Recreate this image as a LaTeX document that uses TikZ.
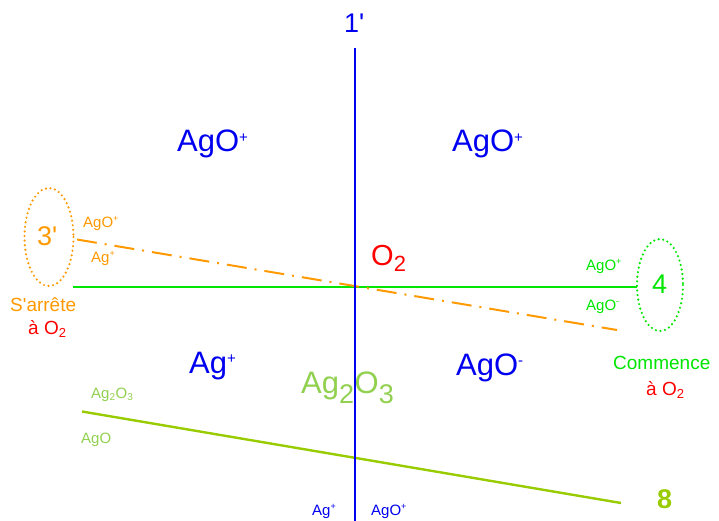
\documentclass[tikz,border=0pt]{standalone}
\usepackage{fontspec}
\setmainfont{Liberation Sans}[Ligatures=TeXOff]
\definecolor{cblue}{RGB}{0,0,240}
\definecolor{corange}{RGB}{255,153,0}
\definecolor{cred}{RGB}{255,0,0}
\definecolor{cgreen}{RGB}{0,230,0}
\definecolor{colive}{RGB}{153,204,0}
\definecolor{clight}{RGB}{146,208,80}
\begin{document}
\begin{tikzpicture}[x=1pt,y=-1pt,
  lbl/.style={inner sep=0pt,anchor=base west},
  big/.style={lbl,font=\fontsize{31}{31}\selectfont},
  mid/.style={lbl,font=\fontsize{19}{19}\selectfont},
  sml/.style={lbl,font=\fontsize{15}{15}\selectfont},
  num/.style={lbl,font=\fontsize{27}{27}\selectfont},
  dotell/.style={line width=2.4pt,line cap=round,dash pattern=on 0pt off 4.6pt}]
\useasboundingbox (0,0) rectangle (719,521);
% lines
\coordinate (bT) at (355,48);
\coordinate (bB) at (355,521);
\coordinate (gL) at (73,287);
\coordinate (gR) at (637,287);
\coordinate (oL) at (77,239.5);
\coordinate (oR) at (617,330);
\coordinate (yL) at (82,411.5);
\coordinate (yR) at (621,503);
\draw[cgreen,line width=2pt] (gL) -- (gR);
\draw[corange,line width=2pt,dash pattern=on 20pt off 8pt on 2pt off 8pt] (oL) -- (oR);
\draw[colive,line width=2.4pt] (yL) -- (yR);
\draw[cblue,line width=2.4pt] (bT) -- (bB);
% ellipses
\draw[corange,dotell] (49,237) ellipse [x radius=24.5,y radius=49];
\draw[cgreen,dotell] (660,285) ellipse [x radius=23,y radius=46];
% numbers
\node[num,text=cblue] (n1) at (344,33) {1'};
\node[num,text=corange] (n3) at (37,245) {3'};
\node[num,text=cgreen] (n4) at (652,293) {4};
\node[num,text=colive,font=\fontsize{27}{27}\selectfont\bfseries] (n8) at (657,508) {8};
% big labels
\node[big,text=cblue] (a1) at (177,152) {AgO\textsuperscript{\fontsize{15}{15}\selectfont+}};
\node[big,text=cblue] (a2) at (452,152) {AgO\textsuperscript{\fontsize{15}{15}\selectfont+}};
\node[big,text=cblue] (a3) at (189,373) {Ag\textsuperscript{\fontsize{15}{15}\selectfont+}};
\node[big,text=cblue] (a4) at (456,375) {AgO\textsuperscript{\fontsize{15}{15}\selectfont-}};
\node[big,text=clight] (a5) at (301,393) {Ag\textsubscript{\fontsize{27}{27}\selectfont 2}O\textsubscript{\fontsize{27}{27}\selectfont 3}};
\node[lbl,text=cred,font=\fontsize{29}{29}\selectfont] (o2) at (371,265) {O\textsubscript{\fontsize{22}{22}\selectfont 2}};
% left side
\node[sml,text=corange] (l1) at (83,227) {AgO\textsuperscript{\fontsize{9}{9}\selectfont+}};
\node[sml,text=corange] (l2) at (91,262) {Ag\textsuperscript{\fontsize{9}{9}\selectfont+}};
\node[mid,text=corange] (l3) at (10,311) {S'arrête};
\node[mid,text=cred] (l4) at (28,334) {à O\textsubscript{\fontsize{13}{13}\selectfont 2}};
% right side
\node[sml,text=cgreen] (r1) at (586,270) {AgO\textsuperscript{\fontsize{9}{9}\selectfont+}};
\node[sml,text=cgreen] (r2) at (586,310) {AgO\textsuperscript{\fontsize{9}{9}\selectfont-}};
\node[mid,text=cgreen] (r3) at (613,369) {Commence};
\node[mid,text=cred] (r4) at (646,395) {à O\textsubscript{\fontsize{13}{13}\selectfont 2}};
% olive labels
\node[sml,text=clight] (y1) at (91,398) {Ag\textsubscript{\fontsize{10}{10}\selectfont 2}O\textsubscript{\fontsize{10}{10}\selectfont 3}};
\node[sml,text=clight] (y2) at (81,443) {AgO};
% bottom labels
\node[sml,text=cblue] (b1) at (312,515) {Ag\textsuperscript{\fontsize{9}{9}\selectfont+}};
\node[sml,text=cblue] (b2) at (371,515) {AgO\textsuperscript{\fontsize{9}{9}\selectfont+}};
\end{tikzpicture}
\end{document}
